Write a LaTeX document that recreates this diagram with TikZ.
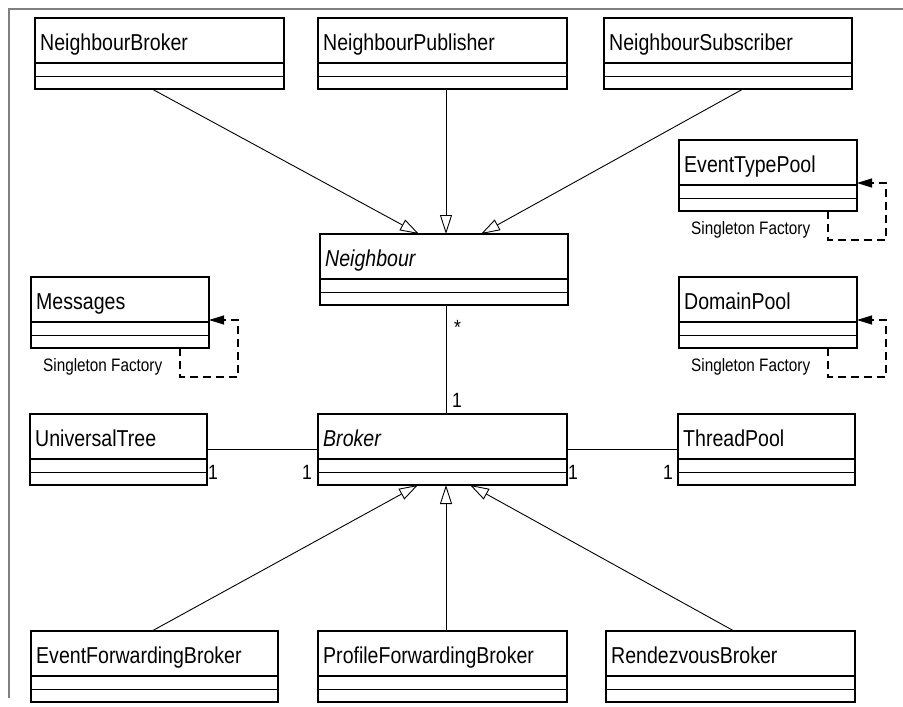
\documentclass[tikz,border=0pt]{standalone}
\usepackage{fontspec}
\setmainfont{Liberation Sans}[FakeStretch=0.85]
\usetikzlibrary{arrows.meta}

% one UML class: three compartments, name in the top one
\newcommand\umlclass[5]{%
  \node[classbox, minimum width=#4pt, anchor=north west] (#1) at (#2,#3) {};
  \node[classname] (#1-name) at ([xshift=5pt,yshift=-32.5pt]#1.north west) {#5};
  \draw[classline] ([yshift=-45pt]#1.north west) -- ([yshift=-45pt]#1.north east);
  \draw[classline] ([yshift=-58.5pt]#1.north west) -- ([yshift=-58.5pt]#1.north east);
}
% singleton-factory self dependency drawn below/right of a class
\newcommand\singleton[1]{%
  \node[note] (#1-note) at ([xshift=12pt,yshift=-23pt]#1.south west) {Singleton Factory};
  \draw[selfdep] ([xshift=-29pt]#1.south east) -- ++(0,-29pt)
    -| ([xshift=29pt,yshift=-43pt]#1.north east) -- ([yshift=-43pt]#1.north east);
}

\tikzset{
  classbox/.style={draw=black, line width=1.2pt, rectangle, inner sep=0pt,
    outer sep=0pt, minimum height=71pt, fill=white},
  classline/.style={draw=black, line width=1.2pt},
  classname/.style={anchor=base west, inner sep=0pt, font=\fontsize{23}{26}\selectfont},
  note/.style={anchor=base west, inner sep=0pt, font=\fontsize{18}{21}\selectfont},
  mult/.style={anchor=base west, inner sep=0pt, font=\fontsize{20.6}{24}\selectfont},
  gen/.style={draw=black, line width=0.9pt,
    -{Triangle[open, length=19pt, width=12pt, line width=0.9pt]}},
  assoc/.style={draw=black, line width=0.9pt},
  selfdep/.style={draw=black, line width=1.2pt, dash pattern=on 8pt off 5pt,
    -{Triangle[length=15pt, width=9pt]}},
  frame/.style={draw=black!50, line width=2pt},
}

\begin{document}
\begin{tikzpicture}[x=1pt, y=-1pt]
  \useasboundingbox (0,0) rectangle (903,707);
  \draw[frame] (9,698) -- (9,9) -- (903,9);

  % top row
  \umlclass{nb}{35}{18}{249}{NeighbourBroker}
  \umlclass{np}{318}{18}{249}{NeighbourPublisher}
  \umlclass{ns}{604}{18}{248}{NeighbourSubscriber}

  % middle
  \umlclass{neigh}{320}{234}{248}{\itshape Neighbour}
  \umlclass{etp}{679}{140}{178}{EventTypePool}
  \umlclass{msg}{31}{277}{178}{Messages}
  \umlclass{dp}{679}{277}{178}{DomainPool}

  \umlclass{ut}{30}{414}{177}{UniversalTree}
  \umlclass{broker}{318}{414}{249}{\itshape Broker}
  \umlclass{tp}{678}{414}{177}{ThreadPool}

  % bottom row
  \umlclass{efb}{31}{631}{247}{EventForwardingBroker}
  \umlclass{pfb}{318}{631}{249}{ProfileForwardingBroker}
  \umlclass{rb}{606}{631}{249}{RendezvousBroker}

  % singletons
  \singleton{etp}
  \singleton{msg}
  \singleton{dp}

  % generalisations to Neighbour
  \draw[gen] ([xshift=-7.5pt]nb.south) -- ([xshift=-25pt]neigh.north);
  \draw[gen] ([xshift=3.5pt]np.south) -- ([xshift=2pt]neigh.north);
  \draw[gen] ([xshift=15pt]ns.south) -- ([xshift=37pt]neigh.north);

  % generalisations to Broker
  \draw[gen] ([xshift=-2.5pt]efb.north) -- ([xshift=-24.5pt]broker.south);
  \draw[gen] ([xshift=3.5pt]pfb.north) -- ([xshift=3.5pt]broker.south);
  \draw[gen] ([xshift=3.5pt]rb.north) -- ([xshift=27.5pt]broker.south);

  % associations
  \draw[assoc] ([xshift=2pt]neigh.south) -- ([xshift=3.5pt]broker.north);
  \draw[assoc] (ut.east) -- (broker.west);
  \draw[assoc] (broker.east) -- (tp.west);

  % multiplicities
  \node[mult] (m-star) at (454,334) {*};
  \node[mult] (m-top) at (452,407) {1};
  \node[mult] (m-ut) at (208,479) {1};
  \node[mult] (m-bl) at (302,479) {1};
  \node[mult] (m-br) at (568,479) {1};
  \node[mult] (m-tp) at (663,479) {1};
\end{tikzpicture}
\end{document}
